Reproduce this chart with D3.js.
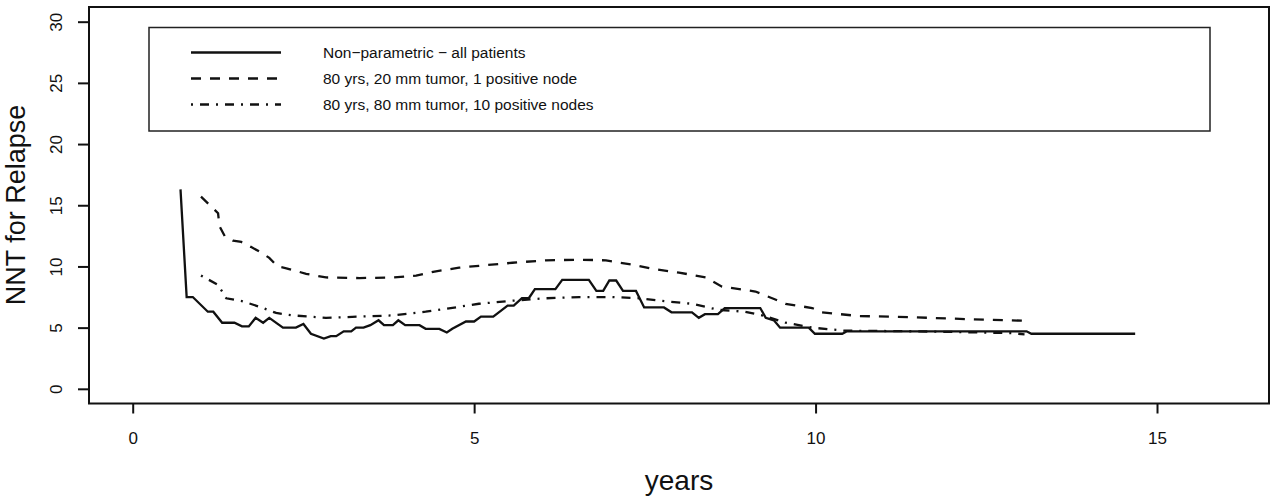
<!DOCTYPE html>
<html>
<head>
<meta charset="utf-8">
<script src="https://cdn.jsdelivr.net/npm/d3@7"></script>
<style>
  body { margin: 0; background: #fff; }
  text { font-family: "Liberation Sans", Arial, sans-serif; fill: #111; }
</style>
</head>
<body>
<svg id="chart" width="1279" height="497"></svg>
<script>
// Non-parametric - all patients
const npYears = [0.70, 0.79, 0.88, 1.10, 1.18, 1.31, 1.49, 1.60, 1.70, 1.80, 1.91, 2.00, 2.20, 2.39, 2.50, 2.61, 2.80, 2.90, 2.98, 3.09, 3.20, 3.27, 3.38, 3.48, 3.60, 3.68, 3.81, 3.89, 3.99, 4.20, 4.29, 4.49, 4.60, 4.68, 4.88, 5.00, 5.10, 5.28, 5.49, 5.58, 5.70, 5.80, 5.89, 6.19, 6.29, 6.68, 6.79, 6.89, 6.98, 7.08, 7.18, 7.37, 7.49, 7.78, 7.89, 8.19, 8.29, 8.38, 8.57, 8.67, 9.19, 9.27, 9.39, 9.48, 9.90, 9.99, 10.39, 10.46, 13.09, 13.16, 14.68];
const npNNT   = [16.3, 7.5, 7.5, 6.3, 6.3, 5.4, 5.4, 5.1, 5.1, 5.8, 5.4, 5.8, 5.0, 5.0, 5.3, 4.5, 4.1, 4.3, 4.3, 4.7, 4.7, 5.0, 5.0, 5.2, 5.6, 5.2, 5.2, 5.6, 5.2, 5.2, 4.9, 4.9, 4.6, 4.9, 5.5, 5.5, 5.9, 5.9, 6.8, 6.8, 7.4, 7.4, 8.15, 8.15, 8.9, 8.9, 8.0, 8.0, 8.85, 8.85, 8.0, 8.0, 6.65, 6.65, 6.25, 6.25, 5.8, 6.1, 6.1, 6.6, 6.6, 5.8, 5.6, 5.0, 5.0, 4.5, 4.5, 4.7, 4.7, 4.5, 4.5];

// 80 yrs, 20 mm tumor, 1 positive node
const smallYears = [1.00, 1.13, 1.25, 1.27, 1.35, 1.47, 1.59, 1.73, 1.86, 2.00, 2.12, 2.25, 2.54, 2.83, 3.32, 3.81, 4.15, 4.44, 4.78, 5.07, 5.56, 6.05, 6.54, 6.93, 7.31, 7.61, 8.00, 8.39, 8.63, 9.12, 9.41, 9.56, 9.95, 10.09, 10.63, 11.41, 12.19, 13.14];
const smallNNT   = [15.7, 15.0, 14.35, 13.3, 12.45, 12.1, 12.0, 11.6, 11.2, 10.7, 10.0, 9.85, 9.4, 9.1, 9.05, 9.1, 9.25, 9.6, 9.9, 10.05, 10.3, 10.5, 10.55, 10.5, 10.15, 9.8, 9.5, 9.1, 8.35, 7.95, 7.3, 6.95, 6.6, 6.25, 5.95, 5.85, 5.7, 5.55];

// 80 yrs, 80 mm tumor, 10 positive nodes
const largeYears = [1.00, 1.25, 1.37, 1.61, 1.86, 2.10, 2.34, 2.83, 3.32, 3.81, 4.29, 4.78, 5.07, 5.56, 6.05, 6.54, 7.02, 7.41, 7.80, 8.19, 8.58, 8.97, 9.26, 9.56, 9.95, 10.04, 10.43, 11.50, 12.87, 13.06];
const largeNNT   = [9.25, 8.5, 7.4, 7.15, 6.7, 6.2, 6.0, 5.8, 5.9, 6.0, 6.3, 6.7, 6.95, 7.2, 7.4, 7.5, 7.5, 7.4, 7.15, 6.95, 6.45, 6.3, 5.95, 5.4, 5.0, 4.95, 4.75, 4.7, 4.55, 4.45];

const xTicks = [0, 5, 10, 15];
const yTicks = [0, 5, 10, 15, 20, 25, 30];
const legendLabels = ["Non\u2212parametric \u2212 all patients", "80 yrs, 20 mm tumor, 1 positive node", "80 yrs, 80 mm tumor, 10 positive nodes"];

const svg = d3.select("#chart");

// R style: limits 0..16 and 0..30 with 4% padding
const x = d3.scaleLinear().domain([-0.64, 16.64]).range([89, 1269]);
const y = d3.scaleLinear().domain([-1.2, 31.2]).range([403.5, 7]);

const dashes = [null, "10,9", "2,7,9,7"];
const series = [
  {xs: npYears, ys: npNNT},
  {xs: smallYears, ys: smallNNT},
  {xs: largeYears, ys: largeNNT}
];

const line = d3.line()
  .x(d => x(d[0]))
  .y(d => y(d[1]));

series.forEach((s, i) => {
  svg.append("path")
    .datum(d3.zip(s.xs, s.ys))
    .attr("d", line)
    .attr("fill", "none")
    .attr("stroke", "#111")
    .attr("stroke-width", 2.3)
    .attr("stroke-dasharray", dashes[i]);
});

// plot box
svg.append("rect")
  .attr("x", 89).attr("y", 7)
  .attr("width", 1269 - 89).attr("height", 403.5 - 7)
  .attr("fill", "none").attr("stroke", "#111").attr("stroke-width", 2);

// x axis
const xAxis = svg.append("g")
  .attr("transform", "translate(0,403.5)")
  .call(d3.axisBottom(x).tickValues(xTicks).tickSize(10).tickPadding(18));
xAxis.select(".domain").remove();
xAxis.selectAll("line").attr("stroke", "#111").attr("stroke-width", 2);
xAxis.selectAll("text")
  .attr("fill", "#111")
  .style("font-family", "'Liberation Sans', Arial, sans-serif")
  .style("font-size", "17px");

// y axis
const yAxis = svg.append("g")
  .attr("transform", "translate(89,0)")
  .call(d3.axisLeft(y).tickValues(yTicks).tickSize(11));
yAxis.select(".domain").remove();
yAxis.selectAll("line").attr("stroke", "#111").attr("stroke-width", 2);
yAxis.selectAll("text")
  .attr("x", null).attr("dy", null)
  .attr("text-anchor", "middle")
  .attr("transform", "translate(-27,0) rotate(-90)")
  .attr("fill", "#111")
  .style("font-family", "'Liberation Sans', Arial, sans-serif")
  .style("font-size", "17px");

// axis titles
svg.append("text")
  .attr("x", 679).attr("y", 490)
  .attr("text-anchor", "middle")
  .style("font-size", "28px")
  .text("years");

svg.append("text")
  .attr("transform", "translate(25,205) rotate(-90)")
  .attr("text-anchor", "middle")
  .style("font-size", "27px")
  .text("NNT for Relapse");

// legend
const legend = svg.append("g");
legend.append("rect")
  .attr("x", 149).attr("y", 27.5)
  .attr("width", 1210 - 149).attr("height", 131 - 27.5)
  .attr("fill", "none").attr("stroke", "#222").attr("stroke-width", 1.5);

legendLabels.forEach((lab, i) => {
  const ly = 52.5 + i * 26;
  legend.append("line")
    .attr("x1", 191).attr("x2", 281)
    .attr("y1", ly).attr("y2", ly)
    .attr("stroke", "#111").attr("stroke-width", 2.3)
    .attr("stroke-dasharray", dashes[i]);
  legend.append("text")
    .attr("x", 323).attr("y", ly + 5.5)
    .style("font-size", "15.5px")
    .text(lab);
});
</script>
</body>
</html>
